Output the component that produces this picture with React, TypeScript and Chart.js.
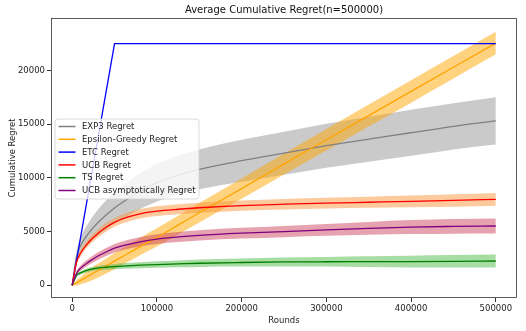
import React, { useEffect, useRef } from "react";
import { Chart, registerables } from "chart.js";

Chart.register(...registerables);

const TITLE = "Average Cumulative Regret(n=500000)";
const X_LABEL = "Rounds";
const Y_LABEL = "Cumulative Regret";
const X_TICKS = [0, 100000, 200000, 300000, 400000, 500000];
const Y_TICKS = [0, 5000, 10000, 15000, 20000];

const rounds = [0, 5000, 10000, 20000, 30000, 40000, 50000, 60000, 80000, 100000, 125000, 150000, 200000, 250000, 300000, 350000, 400000, 450000, 500000];

const exp3Mean = [0, 2600, 3700, 4900, 5800, 6550, 7200, 7750, 8750, 9550, 10250, 10800, 11600, 12300, 13000, 13600, 14200, 14800, 15300];
const exp3Spread = [0, 500, 750, 1000, 1200, 1350, 1450, 1550, 1650, 1750, 1800, 1850, 1950, 2000, 2050, 2100, 2150, 2150, 2200];

const epsMean = [0, 225, 450, 900, 1350, 1800, 2250, 2700, 3600, 4450, 5600, 6750, 9000, 11300, 13550, 15800, 18050, 20300, 22550];
const epsSpread = [0, 250, 350, 550, 650, 700, 750, 770, 800, 850, 880, 900, 950, 980, 1000, 1020, 1050, 1050, 1050];

const etcMean = [0, 2250, 4500, 9000, 13500, 18000, 22500, 22500, 22500, 22500, 22500, 22500, 22500, 22500, 22500, 22500, 22500, 22500, 22500];
const etcSpread = [0, 0, 0, 0, 0, 0, 0, 0, 0, 0, 0, 0, 0, 0, 0, 0, 0, 0, 0];

const ucbMean = [0, 2100, 3000, 4050, 4800, 5400, 5850, 6200, 6650, 6900, 7080, 7220, 7420, 7550, 7650, 7730, 7810, 7900, 8000];
const ucbSpread = [0, 200, 300, 350, 380, 400, 400, 420, 440, 450, 460, 470, 480, 490, 500, 520, 550, 580, 600];

const tsMean = [0, 900, 1150, 1450, 1600, 1680, 1740, 1790, 1870, 1930, 1990, 2050, 2120, 2170, 2190, 2200, 2210, 2230, 2260];
const tsSpread = [0, 100, 150, 180, 200, 230, 250, 260, 280, 300, 320, 340, 380, 420, 450, 500, 550, 580, 600];

const ucbAsymMean = [0, 1100, 1600, 2200, 2700, 3100, 3450, 3700, 4050, 4300, 4500, 4650, 4850, 5000, 5150, 5300, 5420, 5480, 5520];
const ucbAsymSpread = [0, 150, 250, 300, 340, 370, 400, 410, 430, 450, 470, 480, 500, 520, 550, 600, 650, 680, 700];

const SERIES = [
  { label: "EXP3 Regret", mean: exp3Mean, spread: exp3Spread, line: "#808080", band: "rgba(128,128,128,0.42)", smooth: true },
  { label: "Epsilon-Greedy Regret", mean: epsMean, spread: epsSpread, line: "#ffa500", band: "rgba(255,165,0,0.5)", smooth: true },
  { label: "ETC Regret", mean: etcMean, spread: etcSpread, line: "#0000ff", band: "rgba(0,0,255,0.3)", smooth: false },
  { label: "UCB Regret", mean: ucbMean, spread: ucbSpread, line: "#ff0000", band: "rgba(250,150,60,0.5)", smooth: true },
  { label: "TS Regret", mean: tsMean, spread: tsSpread, line: "#008000", band: "rgba(80,185,70,0.5)", smooth: true },
  { label: "UCB asymptotically Regret", mean: ucbAsymMean, spread: ucbAsymSpread, line: "#800080", band: "rgba(205,70,95,0.5)", smooth: true },
];

const FONT = "'DejaVu Sans', sans-serif";

const frame = {
  id: "frame",
  afterDraw(chart: any) {
    const { ctx, chartArea } = chart;
    const { left, top, right, bottom } = chartArea;
    ctx.save();
    ctx.strokeStyle = "#333";
    ctx.lineWidth = 0.8;
    ctx.strokeRect(left + 0.5, top + 0.5, right - left - 1, bottom - top - 1);
    // title
    ctx.fillStyle = "#111";
    ctx.font = `10px ${FONT}`;
    ctx.textAlign = "center";
    ctx.textBaseline = "middle";
    ctx.fillText(TITLE, (left + right) / 2, 10);
    // legend
    const lx = 55, ly = 119, lw = 144, lh = 80, r = 3;
    ctx.beginPath();
    ctx.moveTo(lx + r, ly);
    ctx.lineTo(lx + lw - r, ly);
    ctx.quadraticCurveTo(lx + lw, ly, lx + lw, ly + r);
    ctx.lineTo(lx + lw, ly + lh - r);
    ctx.quadraticCurveTo(lx + lw, ly + lh, lx + lw - r, ly + lh);
    ctx.lineTo(lx + r, ly + lh);
    ctx.quadraticCurveTo(lx, ly + lh, lx, ly + lh - r);
    ctx.lineTo(lx, ly + r);
    ctx.quadraticCurveTo(lx, ly, lx + r, ly);
    ctx.closePath();
    ctx.fillStyle = "rgba(255,255,255,0.8)";
    ctx.fill();
    ctx.strokeStyle = "#d0d0d0";
    ctx.lineWidth = 0.8;
    ctx.stroke();
    ctx.font = `8.5px ${FONT}`;
    ctx.textAlign = "left";
    SERIES.forEach((s, i) => {
      const y = 126.5 + i * 12.8;
      ctx.strokeStyle = s.line;
      ctx.lineWidth = 1.5;
      ctx.beginPath();
      ctx.moveTo(58.5, y);
      ctx.lineTo(75.5, y);
      ctx.stroke();
      ctx.fillStyle = "#222";
      ctx.fillText(s.label, 82, y + 0.5);
    });
    ctx.restore();
  },
};

export default function App() {
  const ref = useRef<HTMLCanvasElement | null>(null);

  useEffect(() => {
    document.body.style.margin = "0";
    const datasets: any[] = [];
    SERIES.forEach((s, k) => {
      const lowerIdx = datasets.length;
      const interp = s.smooth ? "monotone" : "default";
      datasets.push({
        label: s.label + " lower",
        data: rounds.map((x, i) => ({ x, y: s.mean[i] - s.spread[i] })),
        borderWidth: 0,
        borderColor: "rgba(0,0,0,0)",
        pointRadius: 0,
        fill: false,
        cubicInterpolationMode: interp,
        order: 2000 - k * 2,
      });
      datasets.push({
        label: s.label + " upper",
        data: rounds.map((x, i) => ({ x, y: s.mean[i] + s.spread[i] })),
        borderWidth: 0,
        borderColor: "rgba(0,0,0,0)",
        backgroundColor: s.band,
        pointRadius: 0,
        fill: { target: lowerIdx },
        cubicInterpolationMode: interp,
        order: 2000 - k * 2 - 1,
      });
    });
    SERIES.forEach((s, k) => {
      datasets.push({
        label: s.label,
        data: rounds.map((x, i) => ({ x, y: s.mean[i] })),
        borderColor: s.line,
        borderWidth: 1.3,
        pointRadius: 0,
        fill: false,
        cubicInterpolationMode: s.smooth ? "monotone" : "default",
        order: 1000 - k,
      });
    });

    const chart = new Chart(ref.current as HTMLCanvasElement, {
      type: "line",
      data: { datasets },
      plugins: [frame],
      options: {
        animation: false,
        responsive: false,
        maintainAspectRatio: false,
        layout: { padding: { top: 18, right: 9, left: 0, bottom: 0 } },
        elements: { line: { tension: 0 } },
        plugins: {
          legend: { display: false },
          tooltip: { enabled: false },
          title: { display: false },
        },
        scales: {
          x: {
            type: "linear",
            min: -25000,
            max: 525000,
            afterBuildTicks: (scale: any) => {
              scale.ticks = X_TICKS.map((v) => ({ value: v }));
            },
            afterFit: (scale: any) => {
              scale.height = 33;
            },
            grid: { drawOnChartArea: false, drawTicks: true, tickLength: 4, color: "#333" },
            border: { display: false },
            ticks: {
              autoSkip: false,
              maxRotation: 0,
              padding: 2,
              color: "#222",
              font: { family: FONT, size: 8.5 },
              callback: (v: any) => String(v),
            },
            title: {
              display: true,
              text: X_LABEL,
              color: "#222",
              font: { family: FONT, size: 8.5 },
              padding: { top: 0, bottom: 5 },
            },
          },
          y: {
            type: "linear",
            min: -1185,
            max: 24885,
            afterBuildTicks: (scale: any) => {
              scale.ticks = Y_TICKS.map((v) => ({ value: v }));
            },
            afterFit: (scale: any) => {
              scale.width = 51;
            },
            grid: { drawOnChartArea: false, drawTicks: true, tickLength: 4, color: "#333" },
            border: { display: false },
            ticks: {
              autoSkip: false,
              padding: 2,
              color: "#222",
              font: { family: FONT, size: 8.5 },
              callback: (v: any) => String(v),
            },
            title: {
              display: true,
              text: Y_LABEL,
              color: "#222",
              font: { family: FONT, size: 8.5 },
              padding: { top: 8, bottom: 0 },
            },
          },
        },
      },
    });
    return () => chart.destroy();
  }, []);

  return (
    <div style={{ position: "absolute", left: 0, top: 0, width: 526, height: 331, background: "#fff" }}>
      <canvas ref={ref} width={526} height={331} style={{ width: 526, height: 331, display: "block" }} />
    </div>
  );
}
